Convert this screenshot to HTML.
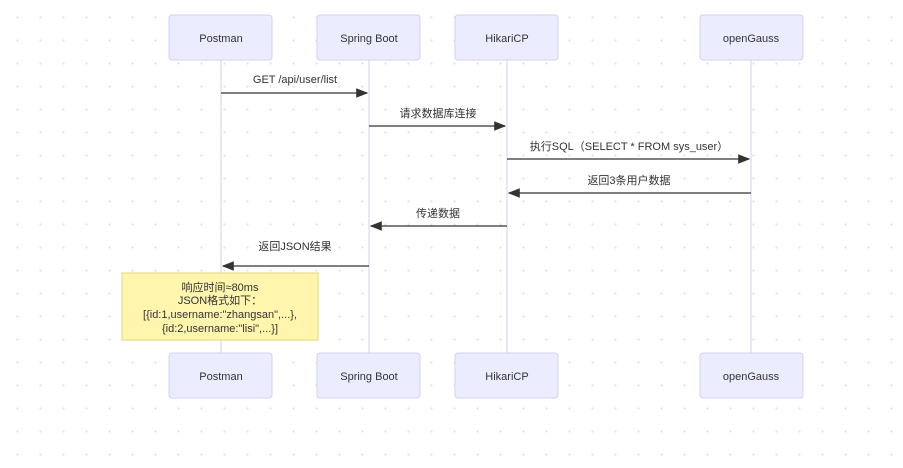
<!DOCTYPE html>
<html><head><meta charset="utf-8"><style>
body{margin:0;width:903px;height:463px;overflow:hidden;background:#fff;
background-image:radial-gradient(circle,#e2e2e2 1px,transparent 1.3px);background-size:23px 23px;background-position:6px 6px;}
svg text{font-family:"Liberation Sans","Noto Sans CJK SC",sans-serif;font-size:11px;fill:#333;}
</style></head><body>
<svg width="903" height="463" xmlns="http://www.w3.org/2000/svg">
<defs><marker id="a" markerWidth="10" markerHeight="10" refX="9" refY="5" orient="auto"><path d="M0,1 L10,5 L0,9z" fill="#333"/></marker></defs>
<g stroke="#d6cff0" stroke-width="1">
<line x1="221" y1="60" x2="221" y2="353"/><line x1="369" y1="60" x2="369" y2="353"/>
<line x1="507" y1="60" x2="507" y2="353"/><line x1="751" y1="60" x2="751" y2="353"/>
</g>
<g fill="#ececff" stroke="#d6cff0" stroke-width="1">
<rect x="169" y="15" width="103" height="45" rx="3"/><rect x="317" y="15" width="103" height="45" rx="3"/>
<rect x="455" y="15" width="103" height="45" rx="3"/><rect x="700" y="15" width="103" height="45" rx="3"/>
<rect x="169" y="353" width="103" height="45" rx="3"/><rect x="317" y="353" width="103" height="45" rx="3"/>
<rect x="455" y="353" width="103" height="45" rx="3"/><rect x="700" y="353" width="103" height="45" rx="3"/>
</g>
<g text-anchor="middle">
<text x="221" y="42">Postman</text><text x="369" y="42">Spring Boot</text><text x="507" y="42">HikariCP</text><text x="751" y="42">openGauss</text>
<text x="221" y="380">Postman</text><text x="369" y="380">Spring Boot</text><text x="507" y="380">HikariCP</text><text x="751" y="380">openGauss</text>
</g>
<g stroke="#333" stroke-width="1.2" marker-end="url(#a)">
<line x1="221" y1="93" x2="367" y2="93"/><line x1="369" y1="126" x2="505" y2="126"/>
<line x1="507" y1="159" x2="749" y2="159"/><line x1="751" y1="193" x2="509" y2="193"/>
<line x1="507" y1="226" x2="371" y2="226"/><line x1="369" y1="266" x2="223" y2="266"/>
</g>
<g text-anchor="middle">
<text x="295" y="83">GET /api/user/list</text><text x="438" y="117">请求数据库连接</text>
<text x="629" y="150">执行SQL（SELECT * FROM sys_user）</text><text x="629" y="184">返回3条用户数据</text>
<text x="438" y="217">传递数据</text><text x="295" y="250">返回JSON结果</text>
</g>
<rect x="122" y="273" width="196" height="67" fill="#fff5ad" stroke="#e0d77a"/>
<g text-anchor="middle">
<text x="220" y="291">响应时间≈80ms</text><text x="220" y="304">JSON格式如下：</text>
<text x="220" y="318">[{id:1,username:"zhangsan",...},</text><text x="220" y="332">{id:2,username:"lisi",...}]</text>
</g>
</svg>
</body></html>
